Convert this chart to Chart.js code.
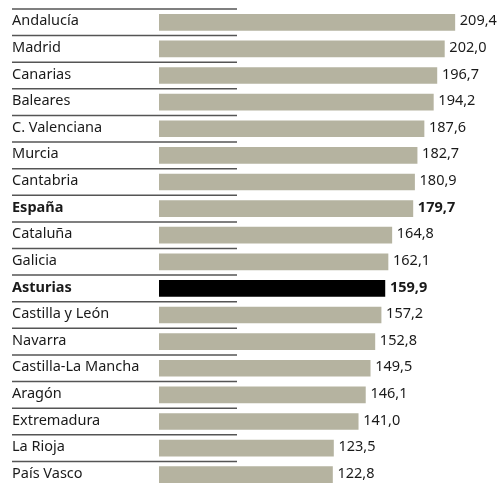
<!DOCTYPE html>
<html lang="es">
<head>
  <meta charset="utf-8">
  <title>Comunidades</title>
  <script src="https://cdn.jsdelivr.net/npm/chart.js"></script>
  <style>
    html, body { margin: 0; padding: 0; background: #fff; overflow: hidden; }
    #wrap { width: 503px; height: 485px; overflow: hidden; }
  </style>
</head>
<body>
<div id="wrap"><canvas id="chart" width="503" height="488"></canvas></div>
<script>
const regions = ['Andalucía', 'Madrid', 'Canarias', 'Baleares', 'C. Valenciana', 'Murcia', 'Cantabria', 'España',
  'Cataluña', 'Galicia', 'Asturias', 'Castilla y León', 'Navarra', 'Castilla-La Mancha', 'Aragón', 'Extremadura',
  'La Rioja', 'País Vasco'];
const values = [209.4, 202.0, 196.7, 194.2, 187.6, 182.7, 180.9, 179.7, 164.8, 162.1, 159.9, 157.2, 152.8, 149.5,
  146.1, 141.0, 123.5, 122.8];
const boldRows = ['España', 'Asturias'];

const FONT = "'Noto Sans', sans-serif";
const isBold = i => boldRows.includes(regions[i]);
const fontFor = i => (isBold(i) ? 'bold ' : '') + '14.5px ' + FONT;

// region names on the left plus the separator lines between rows
const rowLabels = {
  id: 'rowLabels',
  beforeDatasetsDraw(chart) {
    const c = chart.ctx, y = chart.scales.y;
    c.save();
    c.strokeStyle = '#555';
    c.lineWidth = 1.5;
    for (let i = 0; i < regions.length; i++) {
      const py = (y.getPixelForValue(i) + y.getPixelForValue(i - 1)) / 2;
      c.beginPath();
      c.moveTo(12, py);
      c.lineTo(237, py);
      c.stroke();
    }
    c.fillStyle = '#1a1a1a';
    c.textBaseline = 'middle';
    regions.forEach((r, i) => {
      c.font = fontFor(i);
      c.fillText(r, 12, y.getPixelForValue(i) - 1);
    });
    c.restore();
  }
};

const valueLabels = {
  id: 'valueLabels',
  afterDatasetsDraw(chart) {
    const c = chart.ctx;
    const meta = chart.getDatasetMeta(0);
    c.save();
    c.fillStyle = '#1a1a1a';
    c.textBaseline = 'middle';
    meta.data.forEach((bar, i) => {
      c.font = fontFor(i);
      c.fillText(values[i].toFixed(1).replace('.', ','), bar.x + 5, bar.y - 1);
    });
    c.restore();
  }
};

new Chart(document.getElementById('chart'), {
  type: 'bar',
  data: {
    labels: regions,
    datasets: [{
      data: values,
      backgroundColor: regions.map(r => r === 'Asturias' ? '#000' : '#b5b3a0'),
      barThickness: 16,
      borderWidth: 0
    }]
  },
  options: {
    indexAxis: 'y',
    animation: false,
    responsive: false,
    layout: { padding: { left: 159, top: 9, right: 0, bottom: 0 } },
    plugins: { legend: { display: false }, tooltip: { enabled: false } },
    scales: {
      x: { display: false, min: 0, max: 243.5 },
      y: { display: false }
    }
  },
  plugins: [rowLabels, valueLabels]
});
</script>
</body>
</html>
